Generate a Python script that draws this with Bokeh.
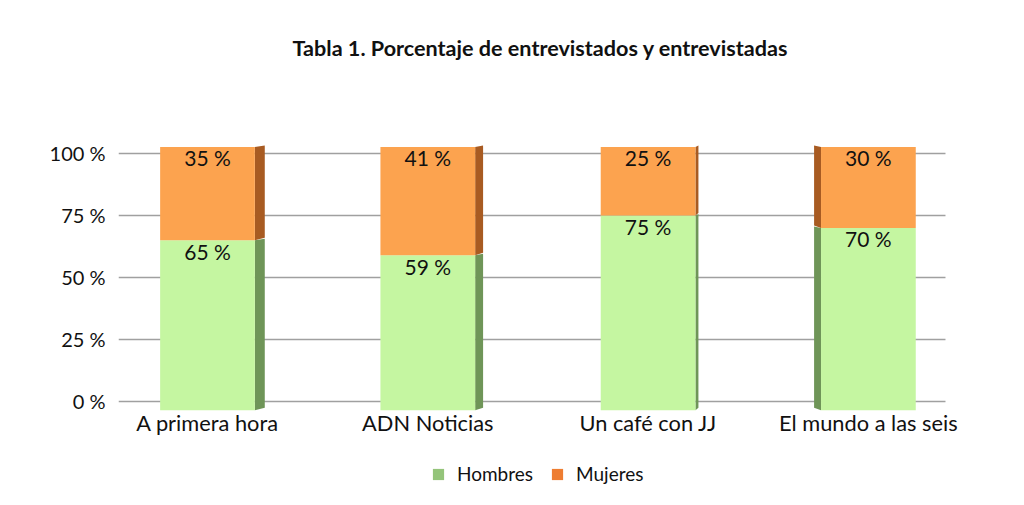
from bokeh.plotting import figure
from bokeh.models import Range1d, FixedTicker, Legend, LegendItem, ColumnDataSource, Label
from bokeh.embed import file_html
from bokeh.resources import INLINE
from bokeh.core.properties import value

# ---- data ----
categories = ["A primera hora", "ADN Noticias", "Un café con JJ", "El mundo a las seis"]
hombres = [65, 59, 75, 70]
mujeres = [35, 41, 25, 30]
series_names = ["Hombres", "Mujeres"]
y_ticks = [0, 25, 50, 75, 100]
title_text = "Tabla 1. Porcentaje de entrevistados y entrevistadas"

# ---- style ----
FONT = "Lato"
FRONT = {"Hombres": "#c5f6a1", "Mujeres": "#fca34f"}
SIDE = {"Hombres": "#6f9558", "Mujeres": "#a85b22"}
SWATCH = {"Hombres": "#94c47a", "Mujeres": "#ee7d31"}
side_dir = [1.0, 0.8, 0.3, -0.7]   # perspective of each bar's side face
BAR_W = 0.43
SIDE_W = 0.045
BASE = -3.5      # visual 3D base below zero
TOP_CAP = 2.6    # visual 3D top above the stack
X_START, X_END = -0.404, 3.636
GRID_END = 3.35  # gridlines stop before the right edge
CAT_Y = -8.5     # category label position (below the base)

xs = list(range(len(categories)))
tops = [h + m for h, m in zip(hombres, mujeres)]

p = figure(frame_width=890, frame_height=489,
           x_range=Range1d(X_START, X_END), y_range=Range1d(-35.5, 161.7),
           x_axis_location=None,
           output_backend="svg", toolbar_location=None,
           min_border_left=118, min_border_right=0,
           min_border_top=0, min_border_bottom=0)
p.title_location = None
p.outline_line_color = None
p.background_fill_color = "white"
p.border_fill_color = "white"
p.grid.visible = False

# y axis
p.yaxis.ticker = FixedTicker(ticks=y_ticks)
p.yaxis.major_label_overrides = {t: f"{t} %" for t in y_ticks}
p.yaxis.axis_line_color = None
p.yaxis.major_tick_line_color = None
p.yaxis.minor_tick_line_color = None
p.yaxis.major_tick_out = 0
p.yaxis.minor_tick_out = 0
p.yaxis.major_label_text_font = FONT
p.yaxis.major_label_text_color = "#111111"
p.yaxis.major_label_text_font_size = "20px"
p.yaxis.major_label_standoff = 13

# horizontal gridlines
p.segment(x0=[X_START] * len(y_ticks), y0=y_ticks, x1=[GRID_END] * len(y_ticks), y1=y_ticks,
          line_color="#a0a0a0", line_width=1.4)

# side faces (3D look)
def side_polys(bottoms, tops_):
    xsl, ysl = [], []
    for i, (b, t) in enumerate(zip(bottoms, tops_)):
        d = side_dir[i]
        edge = xs[i] + (BAR_W / 2 if d >= 0 else -BAR_W / 2)
        far = edge + d * SIDE_W
        xsl.append([edge, far, far, edge])
        ysl.append([b, b + 1.0, t + 0.6, t])
    return xsl, ysl

hx, hy = side_polys([BASE] * len(xs), hombres)
mx, my = side_polys(hombres, [t + TOP_CAP for t in tops])
p.patches(hx, hy, fill_color=SIDE["Hombres"], line_color=None)
p.patches(mx, my, fill_color=SIDE["Mujeres"], line_color=None)

# front faces
src = ColumnDataSource(dict(x=xs, hb=[BASE] * len(xs), h=hombres, m=mujeres,
                            mt=[t + TOP_CAP for t in tops], t=tops))
p.vbar(x="x", bottom="hb", top="h", width=BAR_W, source=src,
       fill_color=FRONT["Hombres"], line_color=None)
p.vbar(x="x", bottom="h", top="mt", width=BAR_W, source=src,
       fill_color=FRONT["Mujeres"], line_color=None)

# value labels
p.text(x=xs, y=hombres, text=[f"{v} %" for v in hombres], text_align="center",
       text_baseline="middle", y_offset=11, text_font=value(FONT),
       text_font_size="21px", text_color="#111111")
p.text(x=xs, y=tops, text=[f"{v} %" for v in mujeres], text_align="center",
       text_baseline="middle", y_offset=4, text_font=value(FONT),
       text_font_size="21px", text_color="#111111")

# category labels
p.text(x=xs, y=[CAT_Y] * len(xs), text=categories, text_align="center",
       text_baseline="middle", text_font=value(FONT),
       text_font_size="21.8px", text_color="#111111")

# title
p.add_layout(Label(x=422, y=442, x_units="screen", y_units="screen", text=title_text,
                   text_align="center", text_baseline="middle", text_font=FONT,
                   text_font_style="bold", text_font_size="21.6px", text_color="#111111"))

# legend
rh = p.rect(x=[0], y=[-100], width=0.01, height=0.01, fill_color=SWATCH["Hombres"], line_color=None)
rm = p.rect(x=[0], y=[-100], width=0.01, height=0.01, fill_color=SWATCH["Mujeres"], line_color=None)
legend = Legend(items=[LegendItem(label=series_names[0], renderers=[rh]),
                       LegendItem(label=series_names[1], renderers=[rm])],
                orientation="horizontal", location=(313, 4),
                padding=8, spacing=17, label_standoff=12, margin=0,
                glyph_width=14, glyph_height=14,
                label_text_font=FONT, label_text_font_size="19px",
                label_text_color="#111111",
                border_line_color=None, background_fill_alpha=0)
p.add_layout(legend)

open("out.html", "w").write(file_html(p, INLINE))
